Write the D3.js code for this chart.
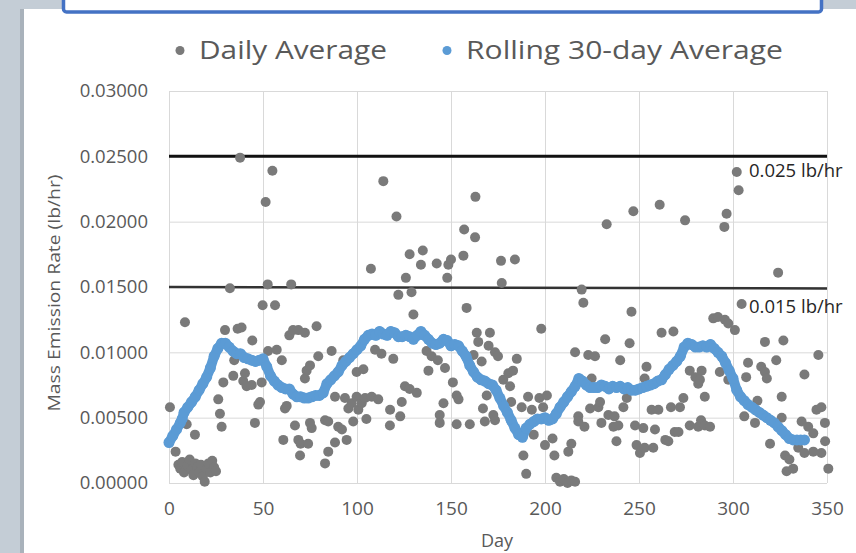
<!DOCTYPE html>
<html lang="en">

<head>
  <title>Mass Emission Rate</title>
  <script src="https://d3js.org/d3.v7.min.js"></script>
  <style>
    body {
      margin: 0;
      background: #fff;
    }

    svg {
      display: block;
      font-family: "Open Sans", sans-serif;
    }
  </style>
</head>

<body>
  <script>
    // Daily average readings [day, lb/hr]
    const dailyAverage = [
      [0.5, 0.0058], [3.5, 0.0024], [5, 0.0014], [6, 0.0011], [7, 0.0016], [8, 0.0008], [8.5, 0.0123], [9.4, 0.0045],
      [10, 0.0013], [11, 0.0018], [12, 0.0010], [13, 0.0006], [13.8, 0.0037], [14, 0.0015], [15, 0.0012], [16, 0.0008],
      [17, 0.0014], [18, 0.0005], [19, 0.0001], [20, 0.0011], [21, 0.0015], [22, 0.0008], [23, 0.0017], [24, 0.0012],
      [25, 0.0009], [26.2, 0.0064], [27.1, 0.0053], [28, 0.0043], [28.9, 0.0077], [29.8, 0.0117], [32.4, 0.0149],
      [34.2, 0.0082], [34.7, 0.0094], [36.5, 0.0118], [37.8, 0.0249], [38.6, 0.0119], [39.5, 0.0078], [40.4, 0.0084],
      [41.3, 0.0074], [44, 0.0075], [44.3, 0.0109], [45.7, 0.0046], [47.5, 0.0060], [48.4, 0.0062], [49.3, 0.0077],
      [49.8, 0.0136], [51.4, 0.0215], [52.5, 0.0152], [52.7, 0.0101], [55, 0.0239], [56.4, 0.0136], [57.3, 0.0102],
      [60, 0.0094], [60.8, 0.0033], [61.7, 0.0057], [62.6, 0.0059], [64, 0.0113], [65, 0.0152], [66, 0.0117],
      [67, 0.0044], [68.8, 0.0033], [69.7, 0.0021], [68.8, 0.0117], [70, 0.0030], [74, 0.0030], [72.3, 0.0115],
      [72.3, 0.0080], [73.2, 0.0086], [75, 0.0090], [75, 0.0046], [75.9, 0.0042], [78.5, 0.0120], [79.4, 0.0097],
      [83, 0.0048], [83, 0.0015], [84.7, 0.0047], [84.7, 0.0024], [86.5, 0.0101], [88.3, 0.0066], [88.3, 0.0031],
      [90, 0.0043], [92, 0.0041], [92.7, 0.0094], [93.6, 0.0065], [94.5, 0.0033], [95.4, 0.0057], [97.2, 0.0061],
      [98, 0.0047], [99.8, 0.0085], [99.8, 0.0066], [100.7, 0.0056], [102.5, 0.0061], [103.4, 0.0087], [104.3, 0.0065],
      [105, 0.0049], [107.4, 0.0164], [107.8, 0.0066], [109.6, 0.0102], [111.3, 0.0064], [113, 0.0099], [114, 0.0231],
      [117.5, 0.0044], [117.6, 0.0056], [119.3, 0.0095], [121, 0.0204], [122, 0.0144], [123, 0.0051], [123.8, 0.0062],
      [125.5, 0.0074], [126, 0.0157], [128, 0.0175], [128, 0.0072], [129, 0.0146], [130, 0.0129], [131.8, 0.0069],
      [134, 0.0167], [135, 0.0178], [137, 0.0101], [138, 0.0086], [139.7, 0.0097], [142.4, 0.0168], [143, 0.0094],
      [144, 0.0052], [144, 0.0046], [146, 0.0061], [146.8, 0.0088], [148, 0.0157], [148.6, 0.0167], [150, 0.0171],
      [151, 0.0077], [153, 0.0067], [153, 0.0045], [154, 0.0064], [156.6, 0.0174], [157, 0.0194], [158.3, 0.0134],
      [160, 0.0045], [162, 0.0098], [162.8, 0.0188], [163, 0.0219], [163.7, 0.0115], [164.5, 0.0108], [166.3, 0.0093],
      [167, 0.0057], [168, 0.0047], [169, 0.0067], [170, 0.0105], [170.7, 0.0115], [172.5, 0.0052], [173.4, 0.0100],
      [173.4, 0.0048], [175, 0.0097], [176.6, 0.0170], [177, 0.0153], [177.8, 0.0079], [180.5, 0.0084], [181.4, 0.0074],
      [182, 0.0062], [183, 0.0086], [184, 0.0171], [185, 0.0095], [187.6, 0.0058], [188.5, 0.0021], [190, 0.0007],
      [191, 0.0066], [193, 0.0056], [194, 0.0037], [197, 0.0065], [198, 0.0118], [199, 0.0058], [200, 0.0029],
      [201, 0.0067], [204, 0.0034], [205, 0.0021], [206, 0.0004], [208, 0.0001], [210, 0.0003], [212, 0.0000],
      [214, 0.0002], [216, 0.0001], [212.4, 0.0024], [214, 0.0030], [216, 0.0100], [217.7, 0.0051], [217.7, 0.0047],
      [219.5, 0.0148], [220.4, 0.0138], [221, 0.0043], [223, 0.0098], [224, 0.0057], [224.8, 0.0080], [226.6, 0.0097],
      [228.4, 0.0058], [229.3, 0.0062], [230, 0.0046], [232, 0.0110], [232.8, 0.0198], [233.7, 0.0052], [236.4, 0.0043],
      [237, 0.0051], [238, 0.0032], [239, 0.0044], [240, 0.0094], [241.7, 0.0058], [243.5, 0.0065], [245, 0.0107],
      [246, 0.0131], [247, 0.0208], [247.9, 0.0044], [248.7, 0.0029], [250.5, 0.0023], [252.3, 0.0042], [253, 0.0080],
      [253, 0.0027], [254, 0.0089], [256.7, 0.0056], [257.6, 0.0027], [258.5, 0.0041], [260.3, 0.0056], [261, 0.0213],
      [262, 0.0115], [264, 0.0033], [265.6, 0.0032], [267, 0.0058], [268.3, 0.0116], [269, 0.0039], [271, 0.0039],
      [271.8, 0.0058], [273.6, 0.0065], [274.5, 0.0201], [277, 0.0086], [277, 0.0044], [280, 0.0081], [281.5, 0.0076],
      [281.5, 0.0043], [282.4, 0.0079], [283, 0.0048], [283.3, 0.0086], [285, 0.0066], [285, 0.0044], [287.8, 0.0043],
      [289.5, 0.0126], [292, 0.0127], [293, 0.0085], [295.4, 0.0196], [295.7, 0.0125], [296.6, 0.0206], [297.5, 0.0122],
      [297.5, 0.0079], [301, 0.0117], [302, 0.0238], [303, 0.0224], [304.6, 0.0137], [306, 0.0051], [307, 0.0081],
      [308, 0.0092], [311.7, 0.0046], [313, 0.0063], [315, 0.0089], [317, 0.0108], [317, 0.0085], [318, 0.0080],
      [319.7, 0.0030], [323, 0.0094], [324, 0.0161], [325.9, 0.0066], [325.9, 0.0050], [326.8, 0.0109], [327.7, 0.0021],
      [328.5, 0.0009], [330, 0.0018], [332, 0.0011], [334.7, 0.0027], [336.5, 0.0047], [338, 0.0083], [338, 0.0023],
      [340, 0.0043], [342.7, 0.0038], [342.7, 0.0024], [344.4, 0.0056], [345.4, 0.0098], [347, 0.0058], [347, 0.0023],
      [348.9, 0.0046], [349, 0.0032], [350.7, 0.0011]
    ];

    // Rolling 30-day average [day, lb/hr]
    const rolling30 = [
      [0, 0.0031], [2, 0.0036], [4, 0.0041], [6, 0.0046], [7, 0.0049], [8, 0.0054], [10, 0.0058], [12, 0.0062],
      [14, 0.0066], [16, 0.0071], [18, 0.0076], [20, 0.0081], [22, 0.0088], [24, 0.0097], [26, 0.0103], [28, 0.0107],
      [30, 0.0107], [32, 0.0104], [34, 0.0101], [36, 0.0099], [38, 0.0099], [40, 0.0096], [42, 0.0095], [44, 0.0094],
      [46, 0.0093], [48, 0.0094], [50, 0.0095], [52, 0.0089], [54, 0.0082], [56, 0.0078], [58, 0.0075], [60, 0.0073],
      [62, 0.0072], [64, 0.0072], [66, 0.0068], [68, 0.0066], [70, 0.0066], [72, 0.0065], [74, 0.0065], [76, 0.0066],
      [78, 0.0067], [80, 0.0067], [82, 0.0069], [84, 0.0076], [86, 0.0079], [88, 0.0082], [90, 0.0085], [92, 0.0090],
      [94, 0.0093], [96, 0.0096], [98, 0.0099], [100, 0.0102], [102, 0.0105], [104, 0.0110], [106, 0.0113],
      [108, 0.0114], [110, 0.0113], [112, 0.0116], [114, 0.0114], [116, 0.0113], [118, 0.0116], [120, 0.0115],
      [122, 0.0112], [124, 0.0112], [126, 0.0113], [128, 0.0112], [130, 0.0110], [132, 0.0113], [134, 0.0116],
      [136, 0.0113], [138, 0.0110], [140, 0.0107], [142, 0.0106], [144, 0.0107], [146, 0.0110], [148, 0.0109],
      [150, 0.0105], [152, 0.0106], [154, 0.0105], [156, 0.0101], [158, 0.0097], [160, 0.0090], [162, 0.0085],
      [164, 0.0081], [166, 0.0079], [168, 0.0078], [170, 0.0076], [172, 0.0075], [174, 0.0071], [176, 0.0065],
      [178, 0.0059], [180, 0.0054], [182, 0.0048], [184, 0.0042], [186, 0.0037], [188, 0.0035], [190, 0.0042],
      [192, 0.0045], [194, 0.0047], [196, 0.0049], [198, 0.0049], [200, 0.0050], [202, 0.0048], [204, 0.0049],
      [206, 0.0053], [208, 0.0058], [210, 0.0062], [212, 0.0066], [214, 0.0070], [216, 0.0074], [218, 0.0080],
      [220, 0.0078], [222, 0.0075], [224, 0.0073], [226, 0.0073], [228, 0.0073], [230, 0.0075], [232, 0.0074],
      [234, 0.0072], [236, 0.0074], [238, 0.0073], [240, 0.0074], [242, 0.0072], [244, 0.0073], [246, 0.0071],
      [248, 0.0071], [250, 0.0072], [252, 0.0073], [254, 0.0074], [256, 0.0075], [258, 0.0076], [260, 0.0078],
      [262, 0.0079], [264, 0.0083], [266, 0.0087], [268, 0.0090], [270, 0.0093], [272, 0.0097], [274, 0.0104],
      [276, 0.0107], [278, 0.0106], [280, 0.0104], [282, 0.0104], [284, 0.0105], [286, 0.0104], [288, 0.0106],
      [290, 0.0103], [292, 0.0100], [294, 0.0097], [296, 0.0092], [298, 0.0086], [300, 0.0080], [302, 0.0071],
      [304, 0.0066], [306, 0.0063], [308, 0.0060], [310, 0.0058], [312, 0.0056], [314, 0.0054], [316, 0.0052],
      [318, 0.0050], [320, 0.0048], [322, 0.0046], [324, 0.0043], [326, 0.0040], [328, 0.0037], [330, 0.0034],
      [332, 0.0033], [334, 0.0033], [336, 0.0033], [338, 0.0033]
    ];

    // Permit limits
    const limitValues = [0.025, 0.015];
    const limitLabels = ["0.025 lb/hr", "0.015 lb/hr"];

    // Axis ticks
    const xTicks = [0, 50, 100, 150, 200, 250, 300, 350];
    const yTicks = [0, 0.005, 0.010, 0.015, 0.020, 0.025, 0.030];

    var W = 856, H = 553;
    var svg = d3.select("body").append("svg")
      .attr("width", W)
      .attr("height", H);

    // Slide background: grey frame, white panel, blue title box
    svg.append("rect").attr("width", W).attr("height", H).attr("fill", "#c4cdd6");
    svg.append("rect").attr("x", 24).attr("y", 9).attr("width", W - 24).attr("height", H - 9).attr("fill", "#fff");
    svg.append("rect").attr("x", 20).attr("y", 9).attr("width", 4).attr("height", H - 9).attr("fill", "#a9b2bb");
    svg.append("rect")
      .attr("x", 63.5).attr("y", -10).attr("width", 758).attr("height", 22).attr("rx", 3)
      .attr("fill", "#fff").attr("stroke", "#4472c4").attr("stroke-width", 3.5);

    // Scales
    var x = d3.scaleLinear().domain([0, 350]).range([169, 827]);
    var y = d3.scaleLinear().domain([0, 0.03]).range([483, 91]);

    // Y axis + horizontal gridlines
    var yAxis = svg.append("g")
      .attr("transform", "translate(169,0)")
      .call(d3.axisLeft(y).tickValues(yTicks).tickFormat(d3.format(".5f"))
        .tickSize(-(827 - 169)).tickPadding(21));
    yAxis.select(".domain").remove();
    yAxis.selectAll("line").attr("stroke", "#d9d9d9");
    yAxis.selectAll("text").attr("fill", "#595959")
      .attr("font-family", "Open Sans").attr("font-size", 18.5);

    // X axis + vertical gridlines
    var xAxis = svg.append("g")
      .attr("transform", "translate(0,483)")
      .call(d3.axisBottom(x).tickValues(xTicks).tickFormat(d3.format("d"))
        .tickSize(-(483 - 91)).tickPadding(19));
    xAxis.select(".domain").remove();
    xAxis.selectAll("line").attr("stroke", "#d9d9d9");
    xAxis.selectAll("text").attr("fill", "#595959")
      .attr("font-family", "Open Sans").attr("font-size", 19);

    // Axis titles
    svg.append("text")
      .attr("x", 497).attr("y", 547)
      .attr("text-anchor", "middle")
      .attr("fill", "#595959").attr("font-size", 18)
      .text("Day");
    svg.append("text")
      .attr("transform", "translate(60,293) rotate(-90)")
      .attr("text-anchor", "middle")
      .attr("fill", "#595959").attr("font-size", 17)
      .attr("textLength", 237).attr("lengthAdjust", "spacingAndGlyphs")
      .text("Mass Emission Rate (lb/hr)");

    // Limit lines
    svg.selectAll(".limit")
      .data(limitValues)
      .enter()
      .append("line")
      .attr("class", "limit")
      .attr("x1", x(0)).attr("x2", x(350))
      .attr("y1", function(d) { return y(d); })
      .attr("y2", function(d, i) { return y(d) + (i === 0 ? 0 : 1.5); })
      .attr("stroke", function(d, i) { return i === 0 ? "#111" : "#333"; })
      .attr("stroke-width", function(d, i) { return i === 0 ? 3 : 2.5; });

    // Daily points
    svg.append("g")
      .selectAll("circle")
      .data(dailyAverage)
      .enter()
      .append("circle")
      .attr("cx", function(d) { return x(d[0]); })
      .attr("cy", function(d) { return y(d[1]); })
      .attr("r", 5)
      .attr("fill", "#7a7a7a");

    // Rolling average: thick line plus markers
    svg.append("path")
      .datum(rolling30)
      .attr("fill", "none")
      .attr("stroke", "#5b9bd5")
      .attr("stroke-width", 10)
      .attr("stroke-linejoin", "round")
      .attr("stroke-linecap", "round")
      .attr("d", d3.line().x(function(d) { return x(d[0]); }).y(function(d) { return y(d[1]); }));
    svg.append("g")
      .selectAll("circle")
      .data(rolling30)
      .enter()
      .append("circle")
      .attr("cx", function(d) { return x(d[0]); })
      .attr("cy", function(d) { return y(d[1]); })
      .attr("r", 5.5)
      .attr("fill", "#5b9bd5");

    // Limit labels
    svg.selectAll(".limit-label")
      .data(limitValues)
      .enter()
      .append("text")
      .attr("class", "limit-label")
      .attr("x", 749)
      .attr("y", function(d, i) { return y(d) + (i === 0 ? 21 : 26); })
      .attr("fill", "#262626")
      .attr("font-size", 18.5)
      .text(function(d, i) { return limitLabels[i]; });

    // Legend
    var legend = svg.append("g");
    legend.append("circle").attr("cx", 180).attr("cy", 50.5).attr("r", 4.5).attr("fill", "#7a7a7a");
    legend.append("text").attr("x", 199).attr("y", 59)
      .attr("fill", "#595959").attr("font-size", 25)
      .attr("textLength", 188).attr("lengthAdjust", "spacingAndGlyphs")
      .text("Daily Average");
    legend.append("circle").attr("cx", 447).attr("cy", 50.5).attr("r", 4.5).attr("fill", "#5b9bd5");
    legend.append("text").attr("x", 466).attr("y", 59)
      .attr("fill", "#595959").attr("font-size", 25)
      .attr("textLength", 317).attr("lengthAdjust", "spacingAndGlyphs")
      .text("Rolling 30-day Average");
  </script>
</body>

</html>
